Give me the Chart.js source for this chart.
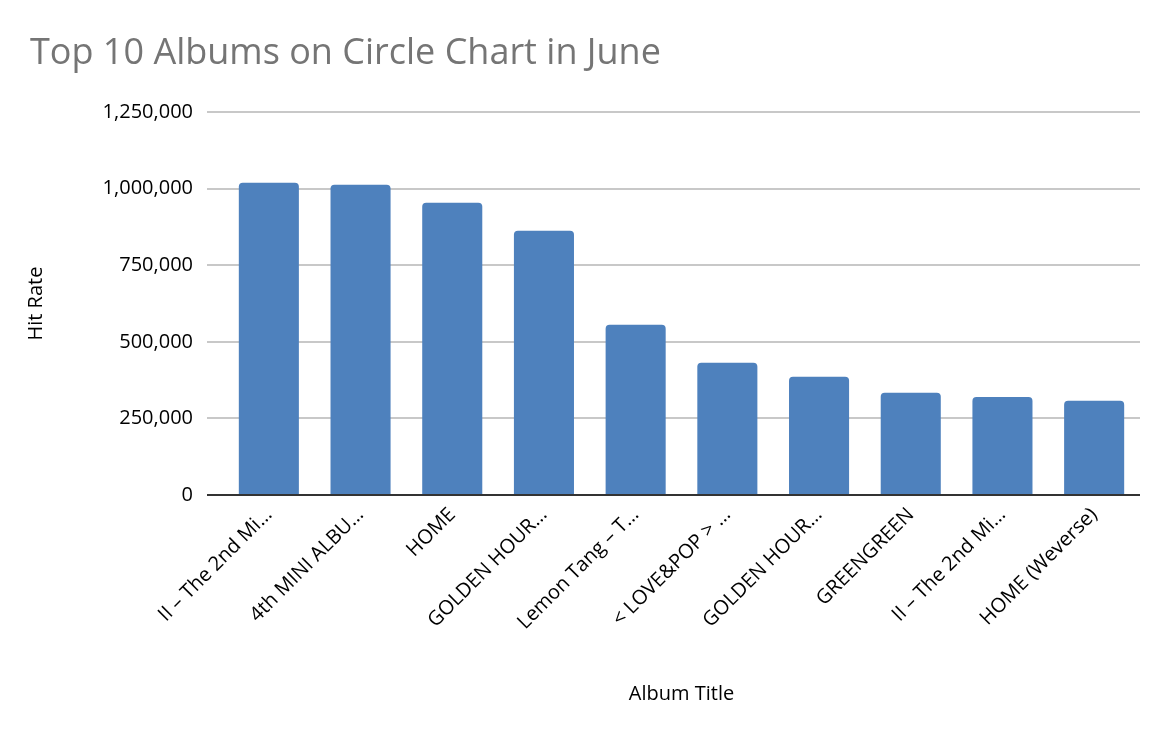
<!DOCTYPE html>
<html>
<head>
<meta charset="utf-8">
<script src="https://cdn.jsdelivr.net/npm/chart.js@4/dist/chart.umd.min.js"></script>
<style>
  html, body { margin: 0; padding: 0; background: #fff; }
  #wrap { width: 1175px; height: 730px; position: relative; }
</style>
</head>
<body>
<div id="wrap"><canvas id="albumChart"></canvas></div>
<script>
// Top 10 albums on Circle Chart in June
const albumTitles = [
  'II – The 2nd Mi…',
  '4th MINI ALBU…',
  'HOME',
  'GOLDEN HOUR…',
  'Lemon Tang – T…',
  '< LOVE&POP > …',
  'GOLDEN HOUR…',
  'GREENGREEN',
  'II – The 2nd Mi…',
  'HOME (Weverse)'
];
const hitRates = [1020000, 1013000, 954000, 863000, 556000, 432000, 386000, 334000, 320000, 308000];
const yTicks = [0, 250000, 500000, 750000, 1000000, 1250000];

const fontFamily = '"Open Sans", "Noto Sans CJK KR", sans-serif';
// zero line is dark, the other gridlines light grey
const gridColor = ctx => (ctx.tick && ctx.tick.value === 0 ? '#333' : '#c8c8c8');

const canvas = document.getElementById('albumChart');
new Chart(canvas, {
  type: 'bar',
  data: {
    labels: albumTitles,
    datasets: [{
      label: 'Hit Rate',
      data: hitRates,
      backgroundColor: '#4e81bd',
      borderRadius: { topLeft: 4, topRight: 4 },
      borderSkipped: 'bottom',
      categoryPercentage: 1.0,
      barPercentage: 0.655
    }]
  },
  options: {
    responsive: true,
    maintainAspectRatio: false,
    animation: false,
    layout: { padding: { left: 30, right: 35, top: 18, bottom: 20 } },
    plugins: {
      legend: { display: false },
      tooltip: { enabled: false },
      title: {
        display: true,
        text: 'Top 10 Albums on Circle Chart in June',
        align: 'start',
        color: '#757575',
        font: { family: fontFamily, size: 36, weight: 'normal' },
        padding: { top: 14, bottom: 37 }
      }
    },
    scales: {
      x: {
        afterFit: axis => { axis.height = 215; },
        grid: { display: false, drawTicks: false },
        border: { display: false },
        ticks: {
          color: '#000',
          font: { family: fontFamily, size: 20 },
          minRotation: 45,
          maxRotation: 45,
          autoSkip: false,
          padding: 8
        },
        title: {
          display: true,
          text: 'Album Title',
          color: '#000',
          font: { family: fontFamily, size: 20 },
          padding: { top: 18 }
        }
      },
      y: {
        min: 0,
        max: 1250000,
        afterBuildTicks: axis => { axis.ticks = yTicks.map(v => ({ value: v })); },
        afterFit: axis => { axis.width = 193; },
        grid: {
          color: gridColor,
          tickColor: gridColor,
          lineWidth: 2,
          drawTicks: true,
          tickLength: 16
        },
        border: { display: false },
        ticks: {
          color: '#000',
          font: { family: fontFamily, size: 20 },
          padding: 14,
          callback: v => v.toLocaleString('en-US')
        },
        title: {
          display: true,
          text: 'Hit Rate',
          color: '#000',
          font: { family: fontFamily, size: 20 },
          padding: { top: -6, bottom: 0 }
        }
      }
    }
  }
});
</script>
</body>
</html>
